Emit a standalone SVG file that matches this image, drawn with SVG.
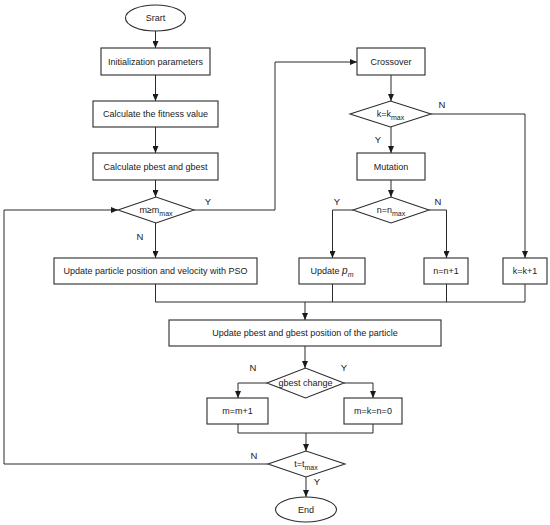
<svg xmlns="http://www.w3.org/2000/svg" width="550" height="525" viewBox="0 0 550 525">
<style>
.s{fill:#fff;stroke:#2b2b2b;stroke-width:1.1}
.c{fill:none;stroke:#2b2b2b;stroke-width:1}
text{font-family:"Liberation Sans",Arial,sans-serif;font-size:9px;fill:#1a1a1a;text-anchor:middle}
.l{font-size:9.5px}
.sub{font-size:7px}
</style>
<defs>
<marker id="a" markerUnits="userSpaceOnUse" markerWidth="7" markerHeight="6" refX="7" refY="3" orient="auto">
<path d="M0,0 L7,3 L0,6 z" fill="#1a1a1a"/>
</marker>
</defs>
<rect width="550" height="525" fill="#fff"/>
<g id="connectors">
<path class="c" d="M155.5,31 V48" marker-end="url(#a)"/>
<path class="c" d="M155.5,75 V101" marker-end="url(#a)"/>
<path class="c" d="M155.5,127 V153" marker-end="url(#a)"/>
<path class="c" d="M155.5,180 V197" marker-end="url(#a)"/>
<path class="c" d="M194,210 H275 V62 H357" marker-end="url(#a)"/>
<path class="c" d="M155.5,223 V258" marker-end="url(#a)"/>
<path class="c" d="M391,75 V101" marker-end="url(#a)"/>
<path class="c" d="M431,114 H525 V258" marker-end="url(#a)"/>
<path class="c" d="M391,127 V153" marker-end="url(#a)"/>
<path class="c" d="M391,180 V197" marker-end="url(#a)"/>
<path class="c" d="M353,210 H332.5 V258" marker-end="url(#a)"/>
<path class="c" d="M429,210 H446.5 V258" marker-end="url(#a)"/>
<path class="c" d="M155.5,284 V302 H525 V284 M332.5,284 V302 M446.5,284 V302"/>
<path class="c" d="M305,302 V320" marker-end="url(#a)"/>
<path class="c" d="M305,346 V368" marker-end="url(#a)"/>
<path class="c" d="M267,383 H238 V398" marker-end="url(#a)"/>
<path class="c" d="M344,383 H373 V398" marker-end="url(#a)"/>
<path class="c" d="M238,424 V433 H373 V424"/>
<path class="c" d="M306,433 V451" marker-end="url(#a)"/>
<path class="c" d="M268,464 H4 V210 H118" marker-end="url(#a)"/>
<path class="c" d="M306,477 V497" marker-end="url(#a)"/>
<text class="l" x="208" y="205">Y</text>
<text class="l" x="140" y="240">N</text>
<text class="l" x="442" y="108">N</text>
<text class="l" x="378" y="143">Y</text>
<text class="l" x="337" y="205">Y</text>
<text class="l" x="438" y="205">N</text>
<text class="l" x="253" y="371">N</text>
<text class="l" x="344" y="371">Y</text>
<text class="l" x="254" y="459">N</text>
<text class="l" x="317" y="485">Y</text>
</g>
<g id="start"><ellipse class="s" cx="155.5" cy="18" rx="30" ry="13"/><text x="155.5" y="21">Srart</text></g>
<g id="init"><rect class="s" x="101" y="48" width="109" height="27"/><text x="155.5" y="64.5">Initialization parameters</text></g>
<g id="fitness"><rect class="s" x="93" y="101" width="125" height="26"/><text x="155.5" y="117">Calculate the fitness value</text></g>
<g id="calc-pbest"><rect class="s" x="93" y="153" width="125" height="27"/><text x="155.5" y="169.5">Calculate pbest and gbest</text></g>
<g id="m-check"><polygon class="s" points="118,210 156,197 194,210 156,223"/><text x="156" y="213">m≥m<tspan class="sub" dy="3">max</tspan></text></g>
<g id="pso"><rect class="s" x="54" y="258" width="203" height="26"/><text x="155.5" y="274">Update particle position and velocity with PSO</text></g>
<g id="crossover"><rect class="s" x="357" y="48" width="68" height="27"/><text x="391" y="64.5">Crossover</text></g>
<g id="k-check"><polygon class="s" points="350,114 390.5,101 431,114 390.5,127"/><text x="390.5" y="117">k=k<tspan class="sub" dy="3">max</tspan></text></g>
<g id="mutation"><rect class="s" x="357" y="153" width="68" height="27"/><text x="391" y="169.5">Mutation</text></g>
<g id="n-check"><polygon class="s" points="353,210 391,197 429,210 391,223"/><text x="391" y="213">n=n<tspan class="sub" dy="3">max</tspan></text></g>
<g id="update-pm"><rect class="s" x="299" y="258" width="66" height="26"/><text x="332" y="274">Update <tspan font-style="italic" font-size="10">p</tspan><tspan class="sub" font-style="italic" dy="2.5">m</tspan></text></g>
<g id="n-inc"><rect class="s" x="424" y="258" width="44" height="26"/><text x="446" y="274">n=n+1</text></g>
<g id="k-inc"><rect class="s" x="503" y="258" width="44" height="26"/><text x="525" y="274">k=k+1</text></g>
<g id="update-best"><rect class="s" x="169" y="320" width="272" height="26"/><text x="305" y="336">Update pbest and gbest position of the particle</text></g>
<g id="gbest-check"><polygon class="s" points="267,383 305.5,368 344,383 305.5,398"/><text x="305.5" y="386">gbest change</text></g>
<g id="m-inc"><rect class="s" x="207" y="398" width="61" height="26"/><text x="237.5" y="414">m=m+1</text></g>
<g id="reset"><rect class="s" x="344" y="398" width="58" height="26"/><text x="373" y="414">m=k=n=0</text></g>
<g id="t-check"><polygon class="s" points="268,464 306,451 345,464 306,477"/><text x="306" y="467">t=t<tspan class="sub" dy="3">max</tspan></text></g>
<g id="end"><ellipse class="s" cx="306" cy="509.5" rx="30.5" ry="12.5"/><text x="306" y="512.5">End</text></g>
</svg>
